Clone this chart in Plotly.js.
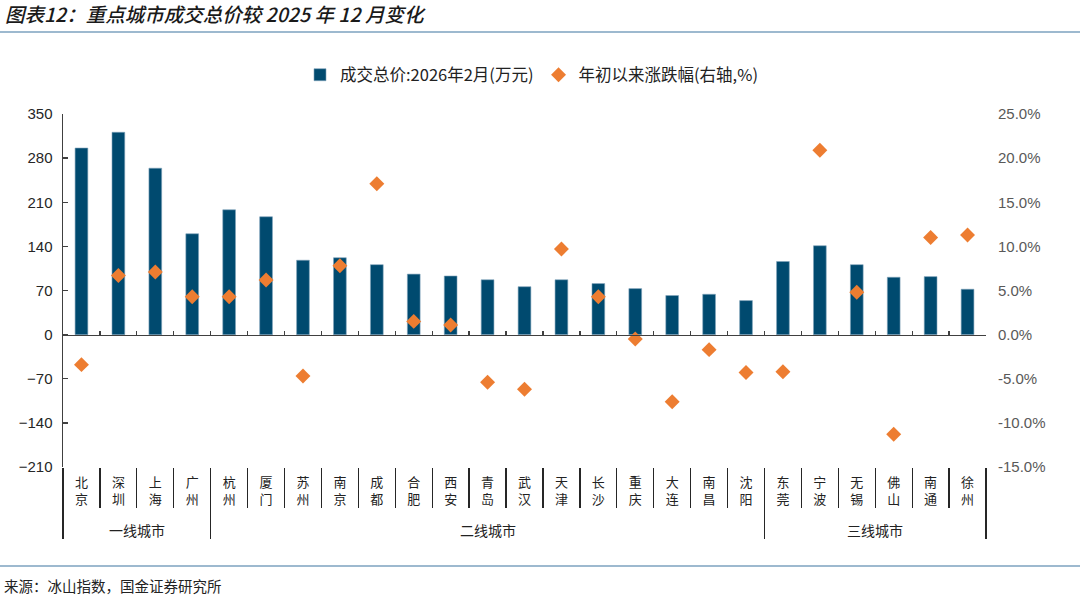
<!DOCTYPE html>
<html>
<head>
<meta charset="utf-8">
<script src="https://cdn.plot.ly/plotly-3.0.1.min.js"></script>
<style>
html,body{margin:0;padding:0;background:#fff;}
#chart{width:1080px;height:599px;}
</style>
</head>
<body>
<div id="chart"></div>
<script>
// ---- data ----
const cities = ["北京","深圳","上海","广州","杭州","厦门","苏州","南京","成都","合肥","西安","青岛","武汉","天津","长沙","重庆","大连","南昌","沈阳","东莞","宁波","无锡","佛山","南通","徐州"];
const totalPrice = [296, 321, 264, 160, 198, 187, 118, 122, 111, 96, 93, 87, 76, 87, 81, 73, 62, 64, 54, 116, 141, 111, 91, 92, 72];
const ytdChange = [-3.4, 6.7, 7.1, 4.3, 4.3, 6.2, -4.7, 7.8, 17.1, 1.5, 1.1, -5.4, -6.2, 9.7, 4.3, -0.5, -7.6, -1.7, -4.3, -4.2, 20.9, 4.8, -11.3, 11.0, 11.3];
const groupNames = ["一线城市", "二线城市", "三线城市"];
const groupSizes = [4, 15, 6];
const seriesNames = ["成交总价:2026年2月(万元)", "年初以来涨跌幅(右轴,%)"];
const leftTicks = [-210, -140, -70, 0, 70, 140, 210, 280, 350];
const rightTicks = [-15, -10, -5, 0, 5, 10, 15, 20, 25];
const titleText = "图表12：重点城市成交总价较 2025 年 12 月变化";
const sourceText = "来源：冰山指数，国金证券研究所";

// ---- derived ----
const labels = cities.map(c => c.split('').join('<br>'));
const boundaries = [-0.5];
groupSizes.forEach(s => boundaries.push(boundaries[boundaries.length - 1] + s));
const groupMids = groupSizes.map((s, i) => (boundaries[i] + boundaries[i + 1]) / 2);

const FONT = 'Liberation Sans, Arial, "Noto Sans CJK SC", sans-serif';
const CJK = '"Noto Sans CJK SC", "Liberation Sans", sans-serif';
const L = 63, R = 94, T = 114, B = 132;
const W = 1080 - L - R, H = 599 - T - B;
const px2x = p => (p - L) / W;
const py2y = p => (599 - B - p) / H;
const yMin = leftTicks[0], yMax = leftTicks[leftTicks.length - 1];

const traces = [
  {
    type: 'bar', name: seriesNames[0], x: labels, y: totalPrice,
    xaxis: 'x', yaxis: 'y',
    marker: {color: '#004A6F', line: {color: '#7FA3BA', width: 0.6}},
    hoverinfo: 'x+y'
  },
  {
    type: 'scatter', mode: 'markers', name: seriesNames[1], x: labels, y: ytdChange,
    xaxis: 'x', yaxis: 'y2',
    marker: {symbol: 'diamond', size: 11.5, color: '#ED7D31'},
    hoverinfo: 'x+y'
  },
  { // zero-line axis carrier
    type: 'scatter', mode: 'markers', x: labels, y: labels.map(() => null),
    xaxis: 'x2', yaxis: 'y', showlegend: false, hoverinfo: 'skip'
  },
  { // group separator axis carrier
    type: 'scatter', mode: 'markers', x: boundaries, y: boundaries.map(() => null),
    xaxis: 'x3', yaxis: 'y', showlegend: false, hoverinfo: 'skip'
  }
];

const annotations = groupNames.map((g, i) => ({
  xref: 'x', yref: 'paper', x: groupMids[i], y: py2y(530),
  text: g, showarrow: false, xanchor: 'center', yanchor: 'middle',
  font: {family: CJK, size: 14, color: '#222'}
}));
annotations.push({
  xref: 'paper', yref: 'paper', x: px2x(2), y: py2y(585),
  text: sourceText, showarrow: false, xanchor: 'left', yanchor: 'middle',
  font: {family: CJK, size: 14.5, color: '#222'}
});

const layout = {
  width: 1080, height: 599,
  margin: {l: L, r: R, t: T, b: B},
  paper_bgcolor: '#fff', plot_bgcolor: 'rgba(0,0,0,0)',
  font: {family: FONT, size: 15, color: '#262626'},
  title: {
    text: '<i>' + titleText + '</i>',
    xref: 'container', yref: 'container', x: 5 / 1080, xanchor: 'left',
    y: 1 - 15.5 / 599, yanchor: 'middle',
    font: {family: CJK, size: 19.5, color: '#1a1a1a', weight: 500}
  },
  bargap: 0.655,
  showlegend: true,
  legend: {
    orientation: 'h', x: px2x(300), xanchor: 'left', y: py2y(75), yanchor: 'middle',
    font: {family: CJK, size: 16.5, color: '#222'}, bgcolor: 'rgba(0,0,0,0)',
    itemwidth: 30, tracegroupgap: 0
  },
  xaxis: {
    type: 'category', categoryorder: 'array', categoryarray: labels,
    range: [-0.5, cities.length - 0.5], anchor: 'y', side: 'bottom',
    showgrid: false, zeroline: false, showline: false,
    ticks: 'outside', tickson: 'boundaries', ticklen: 40, tickwidth: 1.3, tickcolor: '#262626',
    showticklabels: true, ticklabelstandoff: 6,
    tickfont: {family: CJK, size: 13, color: '#222'}
  },
  xaxis2: {
    type: 'category', categoryorder: 'array', categoryarray: labels,
    range: [-0.5, cities.length - 0.5], overlaying: 'x', anchor: 'free',
    position: (0 - yMin) / (yMax - yMin),
    showgrid: false, zeroline: false, showline: true, linecolor: '#404040', linewidth: 1.5,
    ticks: 'inside', tickson: 'boundaries', ticklen: 4, tickwidth: 1.3, tickcolor: '#404040',
    showticklabels: false
  },
  xaxis3: {
    type: 'linear', range: [-0.5, cities.length - 0.5], overlaying: 'x', anchor: 'y',
    tickmode: 'array', tickvals: boundaries,
    showgrid: false, zeroline: false, showline: false,
    ticks: 'outside', ticklen: 71, tickwidth: 1.3, tickcolor: '#262626',
    showticklabels: false
  },
  yaxis: {
    range: [yMin, yMax], tickmode: 'array', tickvals: leftTicks,
    showgrid: false, zeroline: false, showline: true, linecolor: '#404040', linewidth: 1.5,
    ticks: 'inside', ticklen: 5, tickwidth: 1.3, tickcolor: '#404040',
    ticklabelstandoff: 6,
    tickfont: {family: FONT, size: 15, color: '#262626'}
  },
  yaxis2: {
    overlaying: 'y', side: 'right', anchor: 'x',
    range: [rightTicks[0], rightTicks[rightTicks.length - 1]],
    tickmode: 'array', tickvals: rightTicks, ticktext: rightTicks.map(v => v.toFixed(1) + '%'),
    showgrid: false, zeroline: false, showline: false, ticks: '',
    ticklabelstandoff: 11,
    tickfont: {family: FONT, size: 15, color: '#595959'}
  },
  annotations: annotations,
  shapes: [
    {type: 'line', xref: 'paper', yref: 'paper', x0: px2x(0), x1: px2x(1080), y0: py2y(32), y1: py2y(32),
     line: {color: '#9DB9CF', width: 2}},
    {type: 'line', xref: 'paper', yref: 'paper', x0: px2x(0), x1: px2x(1080), y0: py2y(566), y1: py2y(566),
     line: {color: '#9DB9CF', width: 2}}
  ]
};

Plotly.newPlot('chart', traces, layout, {displayModeBar: false, staticPlot: true});
</script>
</body>
</html>
